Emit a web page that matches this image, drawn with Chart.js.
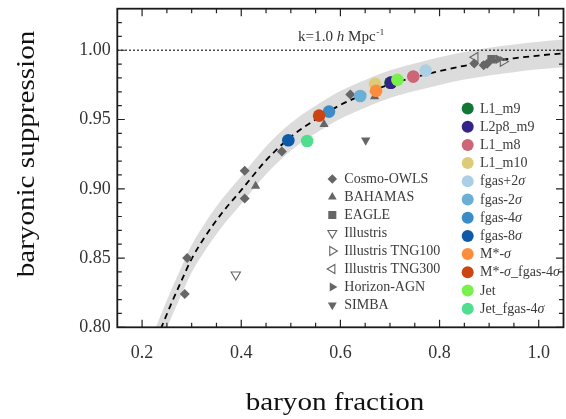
<!DOCTYPE html>
<html>
<head>
<meta charset="utf-8">
<script src="https://cdn.jsdelivr.net/npm/chart.js@4/dist/chart.umd.min.js"></script>
<style>
  html, body { margin: 0; padding: 0; background: #fff; overflow: hidden; }
  #wrap { width: 566px; height: 419px; overflow: hidden; }
</style>
</head>
<body>
<div id="wrap"><canvas id="chart" width="570" height="419"></canvas></div>
<script>
// tick values
const xMajor = [0.2, 0.4, 0.6, 0.8, 1.0];
const xMinor = [0.25, 0.3, 0.35, 0.45, 0.5, 0.55, 0.65, 0.7, 0.75, 0.85, 0.9, 0.95];
const yMajor = [0.80, 0.85, 0.90, 0.95, 1.00];
const yMinor = [0.81, 0.82, 0.83, 0.84, 0.86, 0.87, 0.88, 0.89, 0.91, 0.92, 0.93, 0.94,
                0.96, 0.97, 0.98, 0.99, 1.01, 1.02];

// fit curve and its band
const curveX = [0.222, 0.239, 0.26, 0.28, 0.30, 0.33, 0.36, 0.40, 0.45, 0.50, 0.55,
                0.60, 0.65, 0.70, 0.75, 0.80, 0.85, 0.90, 0.95, 1.00, 1.05];
const curveY = [0.785, 0.800, 0.818, 0.834, 0.8495, 0.867, 0.882, 0.899, 0.9205, 0.9375, 0.950,
                0.9605, 0.9685, 0.9755, 0.9805, 0.985, 0.9888, 0.9918, 0.9942, 0.9962, 0.9978];
const bandHigh = [0.795, 0.810, 0.828, 0.844, 0.8595, 0.877, 0.892, 0.909, 0.9305, 0.9475, 0.960,
                  0.9705, 0.9785, 0.9855, 0.9905, 0.995, 0.9988, 1.0018, 1.0042, 1.0062, 1.0078];
const bandLow = [0.775, 0.790, 0.808, 0.824, 0.8395, 0.857, 0.872, 0.889, 0.9105, 0.9275, 0.940,
                 0.9505, 0.9585, 0.9655, 0.9705, 0.975, 0.9788, 0.9818, 0.9842, 0.9862, 0.9878];
const refX = [0.15, 1.05];
const refY = [1.0, 1.0];

// other simulations (gray markers)
const simNames = ['Cosmo-OWLS', 'BAHAMAS', 'EAGLE', 'Illustris', 'Illustris TNG100',
                  'Illustris TNG300', 'Horizon-AGN', 'SIMBA'];
const simX = [
  [0.286, 0.291, 0.407, 0.407, 0.482, 0.620, 0.870, 0.889, 0.896],
  [0.429, 0.567, 0.669],
  [0.905],
  [0.389],
  [0.928],
  [0.872],
  [0.919],
  [0.651]
];
const simY = [
  [0.824, 0.850, 0.893, 0.913, 0.927, 0.968, 0.9905, 0.9892, 0.9902],
  [0.902, 0.9466, 0.9665],
  [0.9935],
  [0.838],
  [0.9918],
  [0.995],
  [0.9935],
  [0.935]
];

// FLAMINGO runs (coloured circles)
const runNames = ['L1_m9', 'L2p8_m9', 'L1_m8', 'L1_m10', 'fgas+2σ', 'fgas-2σ', 'fgas-4σ',
                  'fgas-8σ', 'M*-σ', 'M*-σ_fgas-4σ', 'Jet', 'Jet_fgas-4σ'];
const runX = [0.701, 0.702, 0.747, 0.670, 0.772, 0.640, 0.577, 0.495, 0.672, 0.557, 0.715, 0.533];
const runY = [0.9765, 0.9766, 0.981, 0.9757, 0.9853, 0.967, 0.9557, 0.935, 0.9708, 0.9528, 0.9786, 0.9345];

// styles
const runColors = ['#117733', '#332288', '#cc6677', '#ddcc77', '#abd0e6', '#6baed6', '#3a8bc8',
                   '#0f5aa8', '#fd8d3c', '#cc4412', '#7af04c', '#4fdd8e'];
const gray = '#666666';
const simStyles = [
  { pointStyle: 'rectRot', radius: 5, rotation: 0, open: false },
  { pointStyle: 'triangle', radius: 5.3, rotation: 0, open: false },
  { pointStyle: 'rect', radius: 6, rotation: 0, open: false },
  { pointStyle: 'triangle', radius: 5.4, rotation: 180, open: true },
  { pointStyle: 'triangle', radius: 5.4, rotation: 90, open: true },
  { pointStyle: 'triangle', radius: 5.4, rotation: 270, open: true },
  { pointStyle: 'triangle', radius: 5.4, rotation: 90, open: false },
  { pointStyle: 'triangle', radius: 5.4, rotation: 180, open: false }
];

function pairs(xs, ys) {
  return xs.map((v, i) => ({ x: v, y: ys[i] }));
}

var datasets = [];

// circles on top, later runs drawn over earlier ones
runNames.forEach(function (name, i) {
  datasets.push({
    label: name,
    data: [{ x: runX[i], y: runY[i] }],
    backgroundColor: runColors[i],
    borderWidth: 0,
    pointRadius: 6.3,
    order: 20 - i
  });
});

simNames.forEach(function (name, i) {
  var s = simStyles[i];
  datasets.push({
    label: name,
    data: pairs(simX[i], simY[i]),
    pointStyle: s.pointStyle,
    pointRadius: s.radius,
    rotation: s.rotation,
    backgroundColor: s.open ? 'rgba(0,0,0,0)' : gray,
    borderColor: gray,
    borderWidth: s.open ? 1.1 : 0,
    order: 40 - i
  });
});

datasets.push({
  label: 'fit',
  data: pairs(curveX, curveY),
  showLine: true,
  borderColor: '#000',
  borderWidth: 1.8,
  borderDash: [6, 4.5],
  pointRadius: 0,
  cubicInterpolationMode: 'monotone',
  order: 50
});
datasets.push({
  label: 'ref',
  data: pairs(refX, refY),
  showLine: true,
  borderColor: '#000',
  borderWidth: 1.4,
  borderDash: [1.4, 2.6],
  pointRadius: 0,
  order: 51
});
datasets.push({
  label: 'band high',
  data: pairs(curveX, bandHigh),
  showLine: true,
  borderWidth: 0,
  borderColor: 'rgba(0,0,0,0)',
  backgroundColor: '#dcdcdc',
  pointRadius: 0,
  cubicInterpolationMode: 'monotone',
  fill: '+1',
  order: 60
});
datasets.push({
  label: 'band low',
  data: pairs(curveX, bandLow),
  showLine: true,
  borderWidth: 0,
  borderColor: 'rgba(0,0,0,0)',
  pointRadius: 0,
  cubicInterpolationMode: 'monotone',
  fill: false,
  order: 61
});

// text with an italic sigma
function drawRich(ctx, text, x, y, size) {
  var parts = text.split('σ');
  var cx = x;
  for (var i = 0; i < parts.length; i++) {
    ctx.font = size + 'px "Liberation Serif"';
    ctx.fillText(parts[i], cx, y);
    cx += ctx.measureText(parts[i]).width;
    if (i < parts.length - 1) {
      ctx.font = 'italic ' + size + 'px "Liberation Serif"';
      ctx.fillText('σ', cx, y);
      cx += ctx.measureText('σ').width;
    }
  }
}

const framePlugin = {
  id: 'frame',
  afterDatasetsDraw(chart) {
    const ctx = chart.ctx;
    const a = chart.chartArea;
    const xs = chart.scales.x, ys = chart.scales.y;
    ctx.save();
    ctx.strokeStyle = '#222';
    ctx.lineWidth = 1.2;
    function tickX(v, len) {
      var px = xs.getPixelForValue(v);
      ctx.beginPath();
      ctx.moveTo(px, a.bottom); ctx.lineTo(px, a.bottom - len);
      ctx.moveTo(px, a.top); ctx.lineTo(px, a.top + len);
      ctx.stroke();
    }
    function tickY(v, len) {
      var py = ys.getPixelForValue(v);
      ctx.beginPath();
      ctx.moveTo(a.left, py); ctx.lineTo(a.left + len, py);
      ctx.moveTo(a.right, py); ctx.lineTo(a.right - len, py);
      ctx.stroke();
    }
    xMajor.forEach(v => tickX(v, 7.5));
    xMinor.forEach(v => tickX(v, 4.5));
    yMajor.forEach(v => tickY(v, 7.5));
    yMinor.forEach(v => tickY(v, 4.5));
    ctx.lineWidth = 1.8;
    ctx.strokeStyle = '#1a1a1a';
    ctx.strokeRect(a.left, a.top, a.right - a.left, a.bottom - a.top);
    ctx.restore();
  },
  afterDraw(chart) {
    const ctx = chart.ctx;
    ctx.save();
    ctx.fillStyle = '#111';
    ctx.textBaseline = 'alphabetic';
    ctx.textAlign = 'center';
    ctx.font = '26px "Liberation Serif"';
    // x title
    ctx.save();
    ctx.translate(335, 409.5);
    ctx.scale(1.12, 1);
    ctx.fillText('baryon fraction', 0, 0);
    ctx.restore();
    // y title
    ctx.save();
    ctx.translate(33.5, 154);
    ctx.rotate(-Math.PI / 2);
    ctx.scale(1.12, 1);
    ctx.fillText('baryonic suppression', 0, 0);
    ctx.restore();

    // k label
    ctx.textAlign = 'left';
    ctx.fillStyle = '#333';
    ctx.save();
    ctx.translate(298, 41);
    ctx.scale(1.08, 1);
    var cx = 0;
    ctx.font = '14px "Liberation Serif"';
    ctx.fillText('k=1.0 ', cx, 0); cx += ctx.measureText('k=1.0 ').width;
    ctx.font = 'italic 14px "Liberation Serif"';
    ctx.fillText('h', cx, 0); cx += ctx.measureText('h').width;
    ctx.font = '14px "Liberation Serif"';
    ctx.fillText(' Mpc', cx, 0); cx += ctx.measureText(' Mpc').width;
    ctx.font = '9px "Liberation Serif"';
    ctx.fillText('-1', cx + 0.5, -6);
    ctx.restore();

    // legends
    const helpers = Chart.helpers;
    ctx.textBaseline = 'middle';
    ctx.fillStyle = '#3a3a3a';
    simNames.forEach(function (name, i) {
      var s = simStyles[i];
      var yy = 179 + 18 * i;
      ctx.save();
      ctx.fillStyle = s.open ? 'rgba(0,0,0,0)' : gray;
      ctx.strokeStyle = gray;
      ctx.lineWidth = 1.1;
      helpers.drawPoint(ctx, { pointStyle: s.pointStyle, radius: s.radius * 0.95, rotation: s.rotation,
                               borderWidth: s.open ? 1.1 : 0 }, 332.3, yy);
      ctx.restore();
      drawRich(ctx, name, 344.3, yy + 0.5, 14);
    });
    runNames.forEach(function (name, i) {
      var yy = 108.5 + 18.2 * i;
      ctx.save();
      ctx.fillStyle = runColors[i];
      helpers.drawPoint(ctx, { pointStyle: 'circle', radius: 6, rotation: 0, borderWidth: 0 }, 467.7, yy);
      ctx.restore();
      drawRich(ctx, name, 480, yy + 0.5, 14);
    });
    ctx.restore();
  }
};

new Chart(document.getElementById('chart'), {
  type: 'scatter',
  data: { datasets: datasets },
  options: {
    responsive: false,
    animation: false,
    layout: { padding: { top: 8.7, right: 2.3, left: 0, bottom: 0 } },
    plugins: { legend: { display: false }, tooltip: { enabled: false } },
    events: [],
    scales: {
      x: {
        type: 'linear',
        min: 0.15,
        max: 1.05,
        grid: { display: false, drawTicks: false },
        border: { display: false },
        afterBuildTicks: s => { s.ticks = xMajor.map(v => ({ value: v })); },
        afterFit: s => { s.height = 91.7; s.paddingLeft = 0; s.paddingRight = 0; },
        ticks: {
          padding: 15.6,
          maxRotation: 0,
          autoSkip: false,
          color: '#333',
          font: { family: 'Liberation Serif', size: 18 },
          callback: v => v.toFixed(1)
        }
      },
      y: {
        type: 'linear',
        min: 0.80,
        max: 1.03,
        grid: { display: false, drawTicks: false },
        border: { display: false },
        afterBuildTicks: s => { s.ticks = yMajor.map(v => ({ value: v })); },
        afterFit: s => { s.width = 117.3; s.paddingTop = 0; s.paddingBottom = 0; },
        ticks: {
          padding: 6.6,
          autoSkip: false,
          color: '#333',
          font: { family: 'Liberation Serif', size: 18 },
          callback: v => v.toFixed(2)
        }
      }
    }
  },
  plugins: [framePlugin]
});
</script>
</body>
</html>
